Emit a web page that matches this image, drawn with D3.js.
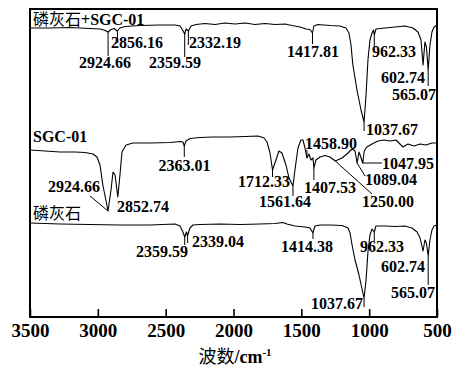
<!DOCTYPE html>
<html><head><meta charset="utf-8">
<script src="https://cdn.jsdelivr.net/npm/d3@7"></script>
<style>
html,body{margin:0;padding:0;background:#fff;}
svg{display:block;}
.num{font-family:"Liberation Serif","Times New Roman",Tinos,"DejaVu Serif",serif;font-weight:bold;font-size:16px;fill:#000;}
.ser{font-family:"Liberation Serif","Times New Roman",Tinos,"DejaVu Serif",serif;font-weight:bold;}
.cjk{font-family:"Noto Sans CJK SC","Noto Sans CJK JP",sans-serif;font-weight:400;}
</style></head>
<body>
<svg id="c" width="455" height="367"></svg>
<script>
// ---------- DATA ----------
const xTicks = [3500, 3000, 2500, 2000, 1500, 1000, 500];
const seriesNames = ["磷灰石+SGC-01", "SGC-01", "磷灰石"];

// 磷灰石+SGC-01 (top trace), transmittance in arbitrary units
const wnMix = [3500,3353,3205,3058,2984,2955,2924.66,2903,2881,2856.16,2837,2800,2689,2542,2431,2394,2380,2359.59,2350,2332.19,2313,2276,2210,2136,2063,1989,1915,1842,1768,1694,1620,1569,1510,1466,1436,1417.81,1407,1377,1289,1215,1171,1149,1134,1120,1090,1060,1037.67,1023,1009,994,979,968,962.33,950,883,810,736,677,640,618,602.74,589,578,565.07,552,537,522,500];
const tMix  = [289,289,289.5,288.5,288,287,285,287.5,288.5,286,289,290.5,291.5,292,292,291,288,283,288,286,291,292.5,293.5,292.5,294,293,294,292.5,293.5,292.5,293,291.5,290,288,287.5,284,291,292.5,291.5,291,289,284,272,252,227,207,195,222,257,277,284,287,282,288,289,290,291,289,285,277,252,275,270,247,272,285,290,292];

// SGC-01 (middle trace)
const wnSgc = [3500,3389,3279,3168,3095,3036,3006,2984,2963,2924.66,2903,2888,2873,2852.74,2837,2822,2792,2741,2616,2468,2394,2372,2363.01,2350,2321,2247,2151,2026,1915,1819,1775,1753,1731,1712.33,1687,1665,1643,1613,1591,1561.64,1547,1525,1503,1488,1473,1458.90,1444,1429,1414,1407.53,1392,1362,1326,1289,1250.00,1200,1156,1126,1104,1089.04,1075,1064,1047.95,1036,1017,979,935,891,847,802,773,751,714,670,625,581,537,500];
const tSgc  = [167,166,165,165,164.5,163,160,152,132,106,127,145,142,120,142,165,172,174,174,174.5,175.5,175,171,176,178.5,179.5,180,180,180.5,181,179,175,164,147,157,166,164,152,139,131,147,169,177,177,169,159,163,157,159,149,157,160,161.5,160,156,159,164,168,166,154,165,161,154,166,170,173,176,177,176,177,173,170,173,171,173,172,174,174];

// 磷灰石 (bottom trace)
const wnAp = [3500,3279,3058,2837,2616,2431,2394,2376,2359.59,2347,2339.04,2321,2299,2247,2100,1952,1805,1694,1635,1606,1547,1473,1436,1414.38,1400,1362,1289,1200,1156,1141,1126,1104,1075,1051,1037.67,1023,1009,994,979,962.33,950,883,810,736,684,647,625,602.74,589,578,565.07,552,537,522,500];
const tAp  = [94,93,92.5,92,92,93,91,86,80,85,81,89,92,92.5,93,92.5,93,93.5,94.5,93,91,90,89,84,91,92,92,91.5,89,84,72,57,42,27,19,37,65,82,88,85,91,91,90.5,91,89,85,79,66,77,74,61,77,87,91,92];

// peak labels per trace
const peaksMix = [2924.66, 2856.16, 2359.59, 2332.19, 1417.81, 1037.67, 962.33, 602.74, 565.07];
const peaksSgc = [2924.66, 2852.74, 2363.01, 1712.33, 1561.64, 1458.90, 1407.53, 1250.00, 1089.04, 1047.95];
const peaksAp  = [2359.59, 2339.04, 1414.38, 1037.67, 962.33, 602.74, 565.07];

// ---------- LAYOUT ----------
const M = {left: 30, right: 437, top: 9, bottom: 317};
const svg = d3.select("#c");
const x = d3.scaleLinear().domain([3500, 500]).range([M.left, M.right]);
const y = d3.scaleLinear().domain([0, 308]).range([M.bottom, M.top]);

const layoutMix = {
  "2924.66": {a:"middle", lx:105, ly:68, le:[108.1,56]},
  "2856.16": {a:"start",  lx:111, ly:48, le:[117.8,43]},
  "2359.59": {a:"middle", lx:175, ly:68, le:[184.7,57]},
  "2332.19": {a:"start",  lx:189, ly:48, le:[188.3,45]},
  "1417.81": {a:"middle", lx:313, ly:57, le:[312.5,44]},
  "1037.67": {a:"start",  lx:366, ly:135, le:[364.1,131]},
  "962.33":  {a:"start",  lx:372, ly:57, le:[374.3,47]},
  "602.74":  {a:"end",    lx:425, ly:83, le:null},
  "565.07":  {a:"end",    lx:436, ly:100, le:[428.2,86]}
};
const layoutSgc = {
  "2924.66": {a:"end",    lx:100, ly:192, le:[90,196]},
  "2852.74": {a:"start",  lx:117, ly:212, le:null},
  "2363.01": {a:"middle", lx:184.5, ly:171, le:[184.3,157]},
  "1712.33": {a:"middle", lx:264, ly:187, le:[272.5,177]},
  "1561.64": {a:"middle", lx:285, ly:207, le:[293,196]},
  "1458.90": {a:"start",  lx:305, ly:149, le:[306.9,150]},
  "1407.53": {a:"start",  lx:304, ly:193, le:[313.9,180]},
  "1250.00": {a:"start",  lx:362, ly:207, le:[372,194]},
  "1089.04": {a:"start",  lx:365, ly:185, le:[365,176]},
  "1047.95": {a:"start",  lx:382, ly:169, le:[382,163], elbow:true}
};
const layoutAp = {
  "2359.59": {a:"end",    lx:188, ly:257, le:[184.7,245]},
  "2339.04": {a:"start",  lx:192, ly:247, le:[187.7,243]},
  "1414.38": {a:"middle", lx:307, ly:252, le:[313,239]},
  "1037.67": {a:"end",    lx:363, ly:309, le:[364.1,307]},
  "962.33":  {a:"start",  lx:360, ly:252, le:[374.3,241]},
  "602.74":  {a:"end",    lx:425, ly:272, le:null},
  "565.07":  {a:"end",    lx:435, ly:298, le:[428.2,285]}
};

const line = d3.line().x(d => x(d[0])).y(d => y(d[1]));
const traces = [
  {wn: wnMix, t: tMix, peaks: peaksMix, lay: layoutMix},
  {wn: wnSgc, t: tSgc, peaks: peaksSgc, lay: layoutSgc},
  {wn: wnAp,  t: tAp,  peaks: peaksAp,  lay: layoutAp}
];

const plot = svg.append("g");
traces.forEach(tr => {
  const pts = tr.wn.map((w, i) => [w, tr.t[i]]);
  plot.append("path").datum(pts).attr("d", line)
    .attr("fill", "none").attr("stroke", "#000").attr("stroke-width", 1.1)
    .attr("stroke-linejoin", "round");
  tr.peaks.forEach(p => {
    const L = tr.lay[p.toFixed(2)];
    const i = tr.wn.findIndex(w => Math.abs(w - p) < 0.01);
    const px = x(p), py = y(tr.t[i]);
    if (L.le) {
      let d;
      if (L.elbow) d = `M${px},${py - 3}L${px},${L.le[1]}L${L.le[0]},${L.le[1]}`;
      else d = `M${px},${py}L${L.le[0]},${L.le[1]}`;
      plot.append("path").attr("d", d).attr("fill", "none")
        .attr("stroke", "#000").attr("stroke-width", 1);
    }
    plot.append("text").attr("class", "num").attr("x", L.lx).attr("y", L.ly)
      .attr("text-anchor", L.a).text(p.toFixed(2));
  });
});

// frame
svg.append("rect").attr("x", M.left).attr("y", M.top)
  .attr("width", M.right - M.left).attr("height", M.bottom - M.top)
  .attr("fill", "none").attr("stroke", "#000").attr("stroke-width", 2);

// x axis
const ax = svg.append("g").attr("transform", `translate(0,${M.bottom})`)
  .call(d3.axisBottom(x).tickValues(xTicks).tickSize(-8).tickPadding(7).tickFormat(d3.format("d")));
ax.attr("font-family", null).attr("font-size", null);
ax.select(".domain").remove();
ax.selectAll(".tick line").attr("stroke", "#000").attr("stroke-width", 1.6);
ax.selectAll(".tick text").attr("fill", "#000").attr("class", "ser").style("font-size", "19px");

// axis title
const tt = svg.append("text").attr("x", 235).attr("y", 363).attr("text-anchor", "middle")
  .style("font-size", "18px");
tt.append("tspan").attr("class", "cjk").text("波数");
tt.append("tspan").attr("class", "ser").text("/cm");
tt.append("tspan").attr("class", "ser").style("font-size", "11px").attr("dy", -7).text("-1");

// series names
const n1 = svg.append("text").attr("x", 33).attr("y", 25).style("font-size", "16px");
n1.append("tspan").attr("class", "cjk").text("磷灰石");
n1.append("tspan").attr("class", "ser").text("+SGC-01");
svg.append("text").attr("class", "ser").attr("x", 33).attr("y", 142).style("font-size", "16px")
  .text(seriesNames[1]);
svg.append("text").attr("class", "cjk").attr("x", 33).attr("y", 219).style("font-size", "16px")
  .text(seriesNames[2]);
</script>
</body></html>
